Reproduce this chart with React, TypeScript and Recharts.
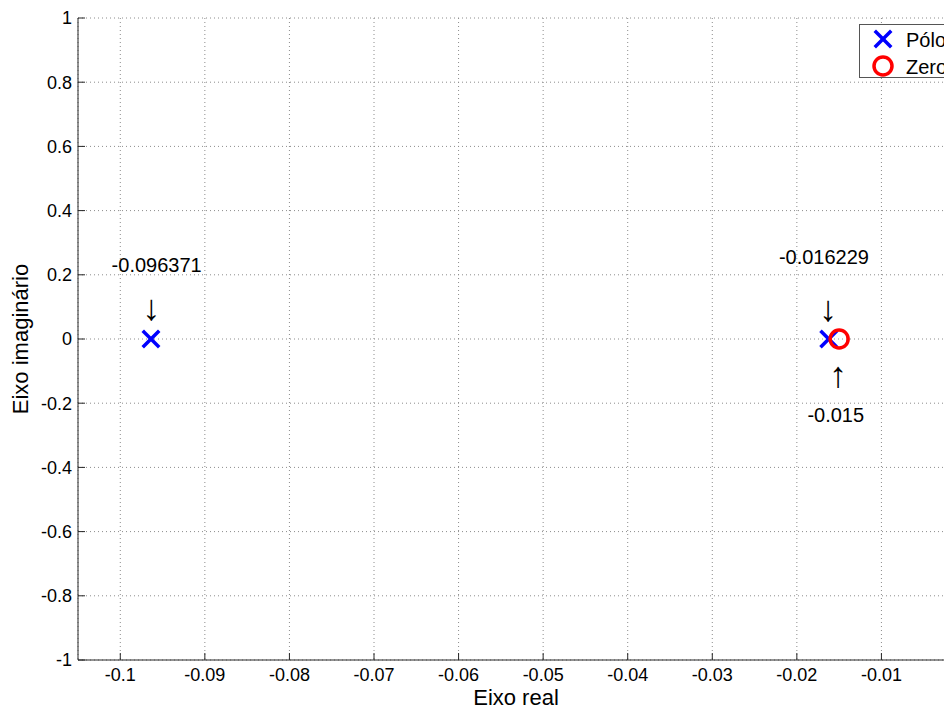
import React from 'react';
import { ScatterChart, Scatter, XAxis, YAxis, CartesianGrid, Legend } from 'recharts';

// pole / zero locations (real, imaginary)
const poleRe = [-0.096371, -0.016229];
const poleIm = [0, 0];
const zeroRe = [-0.015];
const zeroIm = [0];

// text annotations placed in data coordinates
const noteText = ['-0.096371', '\u2193', '-0.016229', '\u2193', '\u2191', '-0.015'];
const noteRe = [-0.0957, -0.0963, -0.0168, -0.0163, -0.0151, -0.0154];
const noteIm = [0.23, 0.1, 0.255, 0.095, -0.11, -0.237];

const xTicks = [-0.1, -0.09, -0.08, -0.07, -0.06, -0.05, -0.04, -0.03, -0.02, -0.01, 0];
const yTicks = [-1, -0.8, -0.6, -0.4, -0.2, 0, 0.2, 0.4, 0.6, 0.8, 1];

const FONT = '"Liberation Sans", Arial, sans-serif';
const AXIS = '#262626';

const poles = poleRe.map((x, i) => ({ x, y: poleIm[i] }));
const zeros = zeroRe.map((x, i) => ({ x, y: zeroIm[i] }));
const notes = noteRe.map((x, i) => ({ x, y: noteIm[i], label: noteText[i] }));

const PoleMark = (p: any) => (
  <g stroke="#0000ff" strokeWidth={3.5} strokeLinecap="square">
    <line x1={p.cx - 7} y1={p.cy - 7} x2={p.cx + 7} y2={p.cy + 7} />
    <line x1={p.cx - 7} y1={p.cy + 7} x2={p.cx + 7} y2={p.cy - 7} />
  </g>
);

const ZeroMark = (p: any) => (
  <circle cx={p.cx} cy={p.cy} r={9} fill="none" stroke="#ff0000" strokeWidth={3.5} />
);

const NoteMark = (p: any) => {
  const arrow = p.payload.label.length === 1;
  return (
    <text
      x={p.cx}
      y={p.cy}
      dy="0.35em"
      textAnchor="middle"
      fontSize={arrow ? 36 : 20}
      fontFamily={FONT}
      fill="#000"
    >
      {p.payload.label}
    </text>
  );
};

const BottomTick = ({ x, y, payload }: any) => (
  <g>
    <line x1={x} x2={x} y1={y} y2={y - 7} stroke={AXIS} />
    <text x={x} y={y + 21} textAnchor="middle" fontSize={18} fontFamily={FONT} fill="#000">
      {String(payload.value)}
    </text>
  </g>
);

const TopTick = ({ x, y }: any) => <line x1={x} x2={x} y1={y} y2={y + 7} stroke={AXIS} />;

const LeftTick = ({ x, y, payload }: any) => (
  <g>
    <line x1={x} x2={x + 7} y1={y} y2={y} stroke={AXIS} />
    <text x={x - 6} y={y} dy="0.35em" textAnchor="end" fontSize={18} fontFamily={FONT} fill="#000">
      {String(payload.value)}
    </text>
  </g>
);

const renderLegend = () => (
  <svg width={110} height={55} style={{ display: 'block' }}>
    <rect x={0.5} y={0.5} width={120} height={53} fill="#fff" stroke="#555" />
    <PoleMark cx={24} cy={15} />
    <text x={47} y={23} fontSize={20} fontFamily={FONT} fill="#000">Pólo</text>
    <ZeroMark cx={24} cy={42} />
    <text x={47} y={50} fontSize={20} fontFamily={FONT} fill="#000">Zero</text>
  </svg>
);

export default function App() {
  return (
    <div style={{ position: 'absolute', left: 0, top: 0, width: 944, height: 709, overflow: 'hidden', background: '#fff' }}>
      <ScatterChart width={1000} height={709} margin={{ top: 18, right: 34, bottom: 0, left: 0 }}>
        <CartesianGrid stroke="#8c8c8c" strokeDasharray="1 3" />
        <XAxis
          dataKey="x"
          type="number"
          domain={[-0.105, 0]}
          ticks={xTicks}
          allowDataOverflow
          height={49}
          tickSize={0}
          tickMargin={0}
          tickLine={false}
          tick={<BottomTick />}
          axisLine={{ stroke: AXIS }}
          interval={0}
          label={{
            content: (p: any) => (
              <text x={p.viewBox.x + p.viewBox.width / 2 - 6} y={705} textAnchor="middle" fontSize={22} fontFamily={FONT} fill="#000">
                Eixo real
              </text>
            ),
          }}
        />
        <XAxis
          xAxisId="top"
          orientation="top"
          type="number"
          domain={[-0.105, 0]}
          ticks={xTicks}
          allowDataOverflow
          height={0}
          tickSize={0}
          tickMargin={0}
          tickLine={false}
          tick={<TopTick />}
          axisLine={{ stroke: AXIS }}
          interval={0}
        />
        <YAxis
          dataKey="y"
          type="number"
          domain={[-1, 1]}
          ticks={yTicks}
          width={78}
          tickSize={0}
          tickMargin={0}
          tickLine={false}
          tick={<LeftTick />}
          axisLine={{ stroke: AXIS }}
          interval={0}
          label={{
            content: (p: any) => {
              const cy = p.viewBox.y + p.viewBox.height / 2;
              return (
                <text x={28} y={cy} transform={`rotate(-90, 28, ${cy})`} textAnchor="middle" fontSize={22} fontFamily={FONT} fill="#000">
                  Eixo imaginário
                </text>
              );
            },
          }}
        />
        <Legend
          layout="vertical"
          align="center"
          verticalAlign="middle"
          content={renderLegend}
          wrapperStyle={{ left: 859, top: 24, right: 'auto', bottom: 'auto', width: 110, height: 55 }}
        />
        <Scatter name="Pólo" data={poles} shape={PoleMark} isAnimationActive={false} />
        <Scatter name="Zero" data={zeros} shape={ZeroMark} isAnimationActive={false} />
        <Scatter name="notes" data={notes} shape={NoteMark} isAnimationActive={false} legendType="none" />
      </ScatterChart>
    </div>
  );
}
